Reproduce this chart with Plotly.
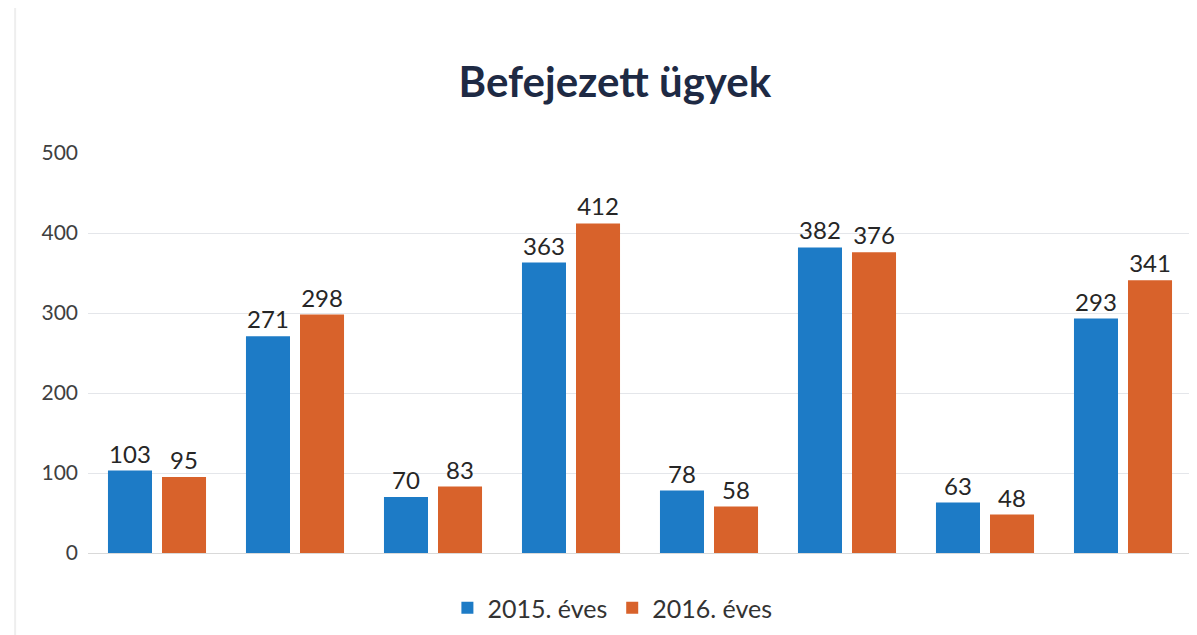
import plotly.graph_objects as go

categories = ["1", "2", "3", "4", "5", "6", "7", "8"]
values_2015 = [103, 271, 70, 363, 78, 382, 63, 293]
values_2016 = [95, 298, 83, 412, 58, 376, 48, 341]
series_names = ["2015. éves", "2016. éves"]
y_ticks = [0, 100, 200, 300, 400, 500]

BLUE = "#1d7bc6"
ORANGE = "#d8622b"
FONT = "Lato, 'Open Sans', sans-serif"

fig = go.Figure()
for name, vals, col in [(series_names[0], values_2015, BLUE), (series_names[1], values_2016, ORANGE)]:
    fig.add_trace(go.Bar(
        x=categories, y=vals, name=name, marker=dict(color=col, line=dict(width=0)),
        text=[str(v) for v in vals], textposition="outside", cliponaxis=False,
        textfont=dict(size=24, color="#262626", family=FONT),
    ))

L, R, T, B = 80, 13, 145, 90
fig.update_layout(
    width=1197, height=635,
    paper_bgcolor="white", plot_bgcolor="white",
    margin=dict(l=L, r=R, t=T, b=B, autoexpand=False),
    barmode="group", bargap=0.217, bargroupgap=0.185,
    title=dict(text="<b>Befejezett ügyek</b>", x=0.507, xanchor="center", y=0.883, yanchor="middle",
               font=dict(size=42, color="#1e2a44", family=FONT)),
    xaxis=dict(showticklabels=False, showgrid=False, zeroline=False, showline=False, ticks=""),
    yaxis=dict(range=[0, 500], tickvals=y_ticks, showgrid=True, gridcolor="#e4e6ea", gridwidth=1,
               zeroline=True, zerolinecolor="#d9d9d9", zerolinewidth=1,
               tickfont=dict(size=21, color="#404040", family=FONT), ticklabelstandoff=9),
    legend=dict(orientation="h", x=0.475, xanchor="center", y=-0.08, yanchor="top",
                font=dict(size=25, color="#333333", family=FONT), itemwidth=30),
    showlegend=True,
)
fig.add_shape(type="line", xref="paper", yref="paper", x0=-0.066, x1=-0.066, y0=-0.25, y1=1.4,
              line=dict(color="#eeeeee", width=2))

fig.write_html("out.html")
